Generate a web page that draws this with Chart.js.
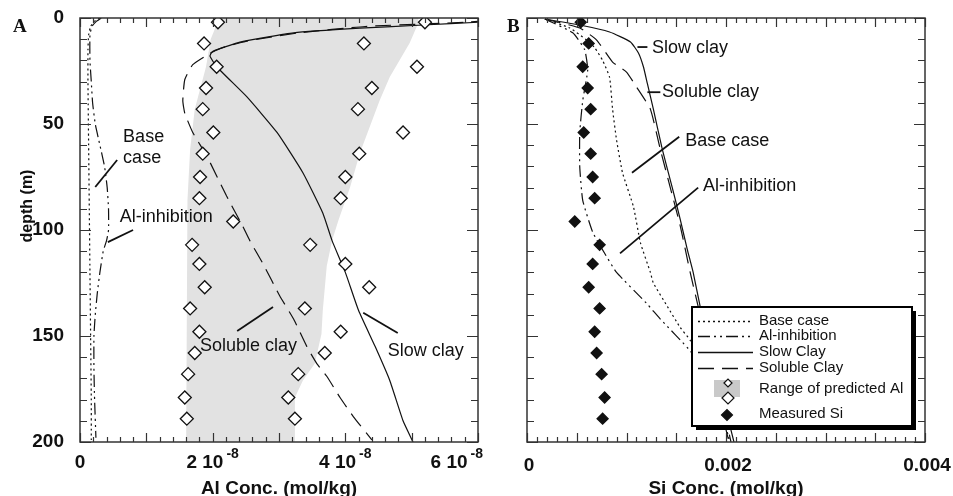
<!DOCTYPE html>
<html>
<head>
<meta charset="utf-8">
<script src="https://cdn.jsdelivr.net/npm/chart.js@4.4.1/dist/chart.umd.min.js"></script>
<style>
  html, body { margin: 0; padding: 0; background: #fff; }
  #wrap { position: relative; width: 953px; height: 496px; overflow: hidden; }
  #wrap canvas { position: absolute; left: 0; top: 0; }
</style>
</head>
<body>
<div id="wrap">
  <canvas id="chart-b" width="953" height="496"></canvas>
  <canvas id="chart-a" width="953" height="496"></canvas>
</div>
<script>
// ---- data ----
// depths (m) of the sampled points
const sampleDepth = [2, 12, 23, 33, 43, 54, 64, 75, 85, 96, 107, 116, 127, 137, 148, 158, 168, 179, 189];
// predicted Al range at each sample (mol/kg)
const alPredLow = [2.08e-8, 1.87e-8, 2.06e-8, 1.90e-8, 1.85e-8, 2.01e-8, 1.85e-8, 1.81e-8, 1.80e-8, 2.31e-8,
  1.69e-8, 1.80e-8, 1.88e-8, 1.66e-8, 1.80e-8, 1.73e-8, 1.63e-8, 1.58e-8, 1.61e-8];
const alPredHigh = [5.20e-8, 4.28e-8, 5.08e-8, 4.40e-8, 4.19e-8, 4.87e-8, 4.21e-8, 4.00e-8, 3.93e-8, null,
  3.47e-8, 4.00e-8, 4.36e-8, 3.39e-8, 3.93e-8, 3.69e-8, 3.29e-8, 3.14e-8, 3.24e-8];
// measured Si (mol/kg)
const siMeasured = [0.00054, 0.00062, 0.00056, 0.00061, 0.00064, 0.00057, 0.00064, 0.00066, 0.00068, 0.00048,
  0.00073, 0.00066, 0.00062, 0.00073, 0.00068, 0.00070, 0.00075, 0.00078, 0.00076];

// shaded range of predicted Al (edges)
const rangeLeftDepth = [0, 10, 23, 43, 62, 86, 200];
const rangeLeftAl = [2.10e-8, 1.97e-8, 1.90e-8, 1.73e-8, 1.66e-8, 1.62e-8, 1.60e-8];
const rangeRightDepth = [0, 2.4, 11.8, 27.8, 38.7, 63.7, 80, 95, 105, 117, 138, 149, 163, 171, 179, 200];
const rangeRightAl = [5.10e-8, 5.10e-8, 4.97e-8, 4.67e-8, 4.52e-8, 4.22e-8, 4.07e-8, 3.90e-8, 3.80e-8, 3.72e-8,
  3.66e-8, 3.64e-8, 3.54e-8, 3.36e-8, 3.24e-8, 3.23e-8];

// panel A model profiles (Al, mol/kg)
const baseADepth = [0, 1.5, 4, 8, 15, 30, 60, 90, 120, 150, 180, 199];
const baseAAl = [0.30e-8, 0.22e-8, 0.16e-8, 0.13e-8, 0.12e-8, 0.12e-8, 0.13e-8, 0.14e-8, 0.15e-8, 0.16e-8, 0.17e-8, 0.17e-8];
const inhibADepth = [0, 1.5, 4, 8, 20, 30, 40, 50, 60, 70, 80, 90, 100, 105, 110, 120, 130, 140, 150, 165, 180, 198];
const inhibAAl = [0.32e-8, 0.25e-8, 0.18e-8, 0.15e-8, 0.15e-8, 0.17e-8, 0.19e-8, 0.23e-8, 0.30e-8, 0.37e-8, 0.41e-8,
  0.43e-8, 0.43e-8, 0.40e-8, 0.35e-8, 0.30e-8, 0.26e-8, 0.23e-8, 0.21e-8, 0.21e-8, 0.22e-8, 0.24e-8];
const slowADepth = [0.5, 2, 3.3, 4.8, 7, 11, 14, 16, 18, 23, 37, 54, 73, 92, 105, 120, 138, 155, 171, 190, 200];
const slowAAl = [6.5e-8, 6.0e-8, 5.17e-8, 4.22e-8, 3.22e-8, 2.46e-8, 2.15e-8, 1.99e-8, 1.96e-8, 2.06e-8, 2.51e-8,
  2.97e-8, 3.36e-8, 3.66e-8, 3.80e-8, 4.00e-8, 4.20e-8, 4.45e-8, 4.67e-8, 4.87e-8, 5.02e-8];
const solADepth = [0.5, 2, 4, 7, 11, 14, 16.7, 22, 29, 39, 45, 54, 65, 84, 98, 105, 116, 131, 142, 155, 163, 169, 179, 188, 199];
const solAAl = [6.5e-8, 5.8e-8, 4.3e-8, 3.3e-8, 2.5e-8, 2.15e-8, 1.96e-8, 1.70e-8, 1.58e-8, 1.55e-8, 1.58e-8, 1.70e-8,
  1.91e-8, 2.21e-8, 2.45e-8, 2.56e-8, 2.76e-8, 3.01e-8, 3.22e-8, 3.42e-8, 3.57e-8, 3.72e-8, 3.92e-8, 4.12e-8, 4.40e-8];

// panel B model profiles (Si, mol/kg)
const slowBDepth = [0.5, 3.3, 6.6, 11.3, 16.5, 23, 31, 43, 62, 80, 95, 109, 120, 136, 150, 170, 185, 200];
const slowBSi = [0.00018, 0.00053, 0.00083, 0.00104, 0.00112, 0.00117, 0.00121, 0.00127, 0.00136, 0.00146,
  0.00154, 0.00161, 0.00167, 0.00174, 0.00181, 0.00192, 0.00200, 0.00208];
const solBDepth = [0.5, 4.7, 10.4, 20.8, 25.5, 32.5, 43, 62, 80, 98, 120, 136, 150, 170, 185, 200];
const solBSi = [0.00018, 0.00053, 0.00070, 0.00086, 0.00100, 0.00110, 0.00124, 0.00134, 0.00144, 0.00154,
  0.00164, 0.00172, 0.00179, 0.00190, 0.00198, 0.00205];
const baseBDepth = [0.5, 4.7, 10.4, 14, 20, 28, 43, 57.5, 73, 89, 106, 120, 125, 136, 146, 152, 160, 175, 190, 200];
const baseBSi = [0.00018, 0.00043, 0.00060, 0.00068, 0.00076, 0.00083, 0.00086, 0.00090, 0.00096, 0.00107,
  0.00114, 0.00124, 0.00127, 0.00141, 0.00154, 0.00164, 0.00172, 0.00186, 0.00198, 0.00204];
const inhibBDepth = [0.5, 7, 15, 24.5, 39, 54, 70, 86, 101, 111, 120, 134.5, 142, 157, 170, 185, 200];
const inhibBSi = [0.00018, 0.00046, 0.00058, 0.00061, 0.00056, 0.00053, 0.00053, 0.00056, 0.00066, 0.00078,
  0.00090, 0.00120, 0.00134, 0.00164, 0.00182, 0.00195, 0.00203];

// axis ticks and texts
const depthTicks = [0, 50, 100, 150, 200];
const alTickValues = [0, 2e-8, 4e-8, 6e-8];
const alTickMain = ['0', '2 10', '4 10', '6 10'];
const alTickSup = ['', '-8', '-8', '-8'];
const siTickValues = [0, 0.002, 0.004];
const siTickLabels = ['0', '0.002', '0.004'];
const legendLabels = ['Base case', 'Al-inhibition', 'Slow Clay', 'Soluble Clay', 'Range of predicted Al', 'Measured Si'];

// ---- styles ----
const INK = '#111';
const SANS = '"Liberation Sans", Arial, Helvetica, sans-serif';
const DASH_BASE = [2, 3];
const DASH_INHIB = [12, 4, 2, 4, 2, 4];
const DASH_SOLUBLE = [16, 8];
const RANGE_GRAY = '#e2e2e2';

function pts(xs, ys) {
  return xs.map((x, i) => ({ x: x, y: ys[i] })).filter(p => p.x !== null);
}

function curve(xs, ys, dash) {
  return {
    data: pts(xs, ys), showLine: true, borderColor: INK, borderWidth: 1.2,
    borderDash: dash, pointRadius: 0, tension: 0.15, fill: false, order: 2
  };
}

function diamonds(xs, ys, filled, r) {
  return {
    data: pts(xs, ys), showLine: false, pointStyle: 'rectRot', pointRadius: r,
    backgroundColor: filled ? INK : '#fff', borderColor: INK, borderWidth: 1.3, order: 0
  };
}

// frame, inward ticks on all sides, tick labels, titles and notes
function framePlugin(cfg) {
  return {
    id: 'frame',
    afterDraw(chart) {
      const ctx = chart.ctx, a = chart.chartArea;
      const sx = chart.scales.x, sy = chart.scales.y;
      ctx.save();
      ctx.strokeStyle = '#333';
      ctx.lineWidth = 1.2;
      ctx.beginPath();
      const nx = Math.round((sx.max - sx.min) / cfg.xMinor);
      const ex = Math.round(cfg.xMajor / cfg.xMinor);
      for (let i = 0; i <= nx; i++) {
        const px = Math.round(sx.getPixelForValue(sx.min + i * cfg.xMinor)) + 0.5;
        const len = i % ex === 0 ? 9 : 5;
        ctx.moveTo(px, a.bottom); ctx.lineTo(px, a.bottom - len);
        ctx.moveTo(px, a.top); ctx.lineTo(px, a.top + len);
      }
      const ny = Math.round((sy.max - sy.min) / cfg.yMinor);
      const ey = Math.round(cfg.yMajor / cfg.yMinor);
      for (let i = 0; i <= ny; i++) {
        const py = Math.round(sy.getPixelForValue(sy.min + i * cfg.yMinor)) + 0.5;
        const len = i % ey === 0 ? 11 : 7;
        ctx.moveTo(a.left, py); ctx.lineTo(a.left + len, py);
        ctx.moveTo(a.right, py); ctx.lineTo(a.right - len, py);
      }
      ctx.stroke();
      ctx.lineWidth = 1.5;
      ctx.strokeRect(a.left, a.top, a.right - a.left, a.bottom - a.top);

      // panel letter and axis title
      ctx.fillStyle = INK;
      ctx.font = 'bold 19px "Liberation Serif", "Times New Roman", serif';
      ctx.textAlign = 'left';
      ctx.textBaseline = 'alphabetic';
      ctx.fillText(cfg.letter, cfg.letterX, 32);
      ctx.font = 'bold 19px ' + SANS;
      ctx.textAlign = 'center';
      ctx.fillText(cfg.title, (a.left + a.right) / 2, 494);

      // annotations with leader lines
      ctx.lineWidth = 1.8;
      ctx.strokeStyle = INK;
      ctx.font = '18px ' + SANS;
      ctx.textAlign = 'left';
      cfg.notes.forEach(n => {
        n.lines.forEach((t, k) => {
          ctx.fillText(t, sx.getPixelForValue(n.x), sy.getPixelForValue(n.y) + k * 21);
        });
        ctx.beginPath();
        ctx.moveTo(sx.getPixelForValue(n.from[0]), sy.getPixelForValue(n.from[1]));
        ctx.lineTo(sx.getPixelForValue(n.to[0]), sy.getPixelForValue(n.to[1]));
        ctx.stroke();
      });
      if (cfg.extra) cfg.extra(chart, ctx);
      ctx.restore();
    }
  };
}

const commonOptions = {
  responsive: false,
  animation: false,
  events: [],
  plugins: { legend: { display: false }, tooltip: { enabled: false } }
};

// ---- panel A: Al ----
const rangePolygon = pts(rangeLeftAl, rangeLeftDepth)
  .concat(pts(rangeRightAl, rangeRightDepth).reverse());

new Chart(document.getElementById('chart-a'), {
  type: 'scatter',
  data: {
    datasets: [
      { data: rangePolygon, showLine: true, fill: 'shape', backgroundColor: RANGE_GRAY,
        borderWidth: 0, borderColor: 'rgba(0,0,0,0)', pointRadius: 0, tension: 0, order: 9 },
      curve(baseAAl, baseADepth, DASH_BASE),
      curve(inhibAAl, inhibADepth, DASH_INHIB),
      curve(slowAAl, slowADepth, []),
      curve(solAAl, solADepth, DASH_SOLUBLE),
      diamonds(alPredLow, sampleDepth, false, 6.5),
      diamonds(alPredHigh, sampleDepth, false, 6.5)
    ]
  },
  options: {
    ...commonOptions,
    layout: { padding: { top: 18, right: 475, bottom: 54, left: 80 } },
    scales: {
      x: { type: 'linear', min: 0, max: 6e-8, display: false },
      y: { type: 'linear', reverse: true, min: 0, max: 200, display: false }
    }
  },
  plugins: [framePlugin({
    xMinor: 0.2e-8, xMajor: 1e-8, yMinor: 10, yMajor: 50,
    letter: 'A', letterX: 13, title: 'Al Conc. (mol/kg)',
    notes: [
      { lines: ['Base', 'case'], x: 0.65e-8, y: 58.5, from: [0.23e-8, 79.7], to: [0.56e-8, 67] },
      { lines: ['Al-inhibition'], x: 0.60e-8, y: 96.2, from: [0.42e-8, 105.7], to: [0.80e-8, 100] },
      { lines: ['Soluble clay'], x: 1.81e-8, y: 157, from: [2.37e-8, 147.6], to: [2.91e-8, 136.3] },
      { lines: ['Slow clay'], x: 4.64e-8, y: 159.4, from: [4.27e-8, 139], to: [4.79e-8, 148.6] }
    ],
    extra(chart, ctx) {
      const sx = chart.scales.x, sy = chart.scales.y;
      ctx.fillStyle = INK;
      // depth labels
      ctx.font = 'bold 19px ' + SANS;
      ctx.textAlign = 'right';
      ctx.textBaseline = 'middle';
      depthTicks.forEach(v => ctx.fillText(String(v), 64, sy.getPixelForValue(v)));
      // x tick labels with superscript exponents
      ctx.textAlign = 'left';
      ctx.textBaseline = 'alphabetic';
      alTickValues.forEach((v, i) => {
        ctx.font = 'bold 19px ' + SANS;
        const wMain = ctx.measureText(alTickMain[i]).width;
        ctx.font = 'bold 14px ' + SANS;
        const wSup = alTickSup[i] ? ctx.measureText(alTickSup[i]).width + 3 : 0;
        const total = wMain + wSup;
        let left = sx.getPixelForValue(v) - total / 2;
        if (left + total > 483) left = 483 - total;
        ctx.font = 'bold 19px ' + SANS;
        ctx.fillText(alTickMain[i], left, 468);
        if (alTickSup[i]) {
          ctx.font = 'bold 14px ' + SANS;
          ctx.fillText(alTickSup[i], left + wMain + 3, 458);
        }
      });
      // y axis title
      ctx.save();
      ctx.translate(32, 206);
      ctx.rotate(-Math.PI / 2);
      ctx.font = 'bold 16px ' + SANS;
      ctx.textAlign = 'center';
      ctx.fillText('depth (m)', 0, 0);
      ctx.restore();
    }
  })]
});

// ---- panel B: Si ----
new Chart(document.getElementById('chart-b'), {
  type: 'scatter',
  data: {
    datasets: [
      curve(baseBSi, baseBDepth, DASH_BASE),
      curve(inhibBSi, inhibBDepth, DASH_INHIB),
      curve(slowBSi, slowBDepth, []),
      curve(solBSi, solBDepth, DASH_SOLUBLE),
      diamonds(siMeasured, sampleDepth, true, 5.5)
    ]
  },
  options: {
    ...commonOptions,
    layout: { padding: { top: 18, right: 28, bottom: 54, left: 527 } },
    scales: {
      x: { type: 'linear', min: 0, max: 0.004, display: false },
      y: { type: 'linear', reverse: true, min: 0, max: 200, display: false }
    }
  },
  plugins: [framePlugin({
    xMinor: 0.0001, xMajor: 0.0005, yMinor: 10, yMajor: 50,
    letter: 'B', letterX: 507, title: 'Si Conc. (mol/kg)',
    notes: [
      { lines: ['Slow clay'], x: 0.001256, y: 16.5, from: [0.00111, 13.7], to: [0.00121, 13.7] },
      { lines: ['Soluble clay'], x: 0.001357, y: 37.3, from: [0.00121, 35], to: [0.00134, 35] },
      { lines: ['Base case'], x: 0.00159, y: 60.4, from: [0.001055, 73], to: [0.00153, 56] },
      { lines: ['Al-inhibition'], x: 0.00177, y: 81.6, from: [0.000935, 111], to: [0.00172, 80] }
    ],
    extra(chart, ctx) {
      const sx = chart.scales.x;
      // x tick labels
      ctx.fillStyle = INK;
      ctx.font = 'bold 19px ' + SANS;
      ctx.textAlign = 'center';
      ctx.textBaseline = 'alphabetic';
      siTickValues.forEach((v, i) => ctx.fillText(siTickLabels[i], sx.getPixelForValue(v) + 2, 471));

      // legend box with drop shadow
      const lx = 692, ly = 307, lw = 220, lh = 119;
      ctx.fillStyle = '#000';
      ctx.fillRect(lx + 4, ly + 4, lw, lh);
      ctx.fillStyle = '#fff';
      ctx.fillRect(lx, ly, lw, lh);
      ctx.strokeStyle = '#000';
      ctx.lineWidth = 2;
      ctx.strokeRect(lx, ly, lw, lh);

      const rows = [321, 336, 352, 368, 389, 414];
      const dashes = [DASH_BASE, DASH_INHIB, [], DASH_SOLUBLE];
      ctx.lineWidth = 1.4;
      ctx.strokeStyle = INK;
      dashes.forEach((d, i) => {
        ctx.setLineDash(d);
        ctx.beginPath();
        ctx.moveTo(698, rows[i] + 0.5);
        ctx.lineTo(753, rows[i] + 0.5);
        ctx.stroke();
      });
      ctx.setLineDash([]);

      // range swatch: gray box with two open diamonds
      ctx.fillStyle = '#c9c9c9';
      ctx.fillRect(714, 380, 26, 17);
      const diamond = (x, y, r, fill) => {
        ctx.beginPath();
        ctx.moveTo(x - r, y); ctx.lineTo(x, y - r); ctx.lineTo(x + r, y); ctx.lineTo(x, y + r);
        ctx.closePath();
        ctx.fillStyle = fill;
        ctx.fill();
        ctx.lineWidth = 1.2;
        ctx.stroke();
      };
      diamond(728, 383, 4, '#fff');
      diamond(728, 398, 6, '#fff');
      diamond(727, 415, 5.5, INK);

      ctx.fillStyle = INK;
      ctx.font = '15px ' + SANS;
      ctx.textAlign = 'left';
      ctx.textBaseline = 'middle';
      legendLabels.forEach((t, i) => ctx.fillText(t, 759, rows[i]));
    }
  })]
});
</script>
</body>
</html>
